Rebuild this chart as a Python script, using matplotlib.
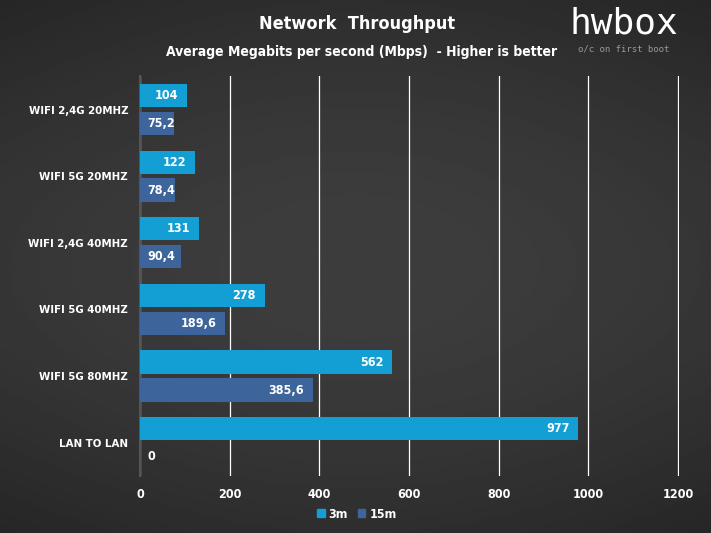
import matplotlib.pyplot as plt
import numpy as np
from matplotlib.patches import Patch

categories = ["WIFI 2,4G 20MHZ", "WIFI 5G 20MHZ", "WIFI 2,4G 40MHZ",
              "WIFI 5G 40MHZ", "WIFI 5G 80MHZ", "LAN TO LAN"]
vals_3m = [104, 122, 131, 278, 562, 977]
vals_15m = [75.2, 78.4, 90.4, 189.6, 385.6, 0]
labels_3m = ["104", "122", "131", "278", "562", "977"]
labels_15m = ["75,2", "78,4", "90,4", "189,6", "385,6", "0"]
x_ticks = [0, 200, 400, 600, 800, 1000, 1200]

c_3m = "#149fd4"
c_15m = "#3d659c"
font = dict(family="DejaVu Sans", fontstretch="condensed", fontweight="bold")

fig = plt.figure(figsize=(7.11, 5.33), dpi=100)

# dark background, a little lighter in the middle
bg = fig.add_axes([0, 0, 1, 1], zorder=0)
yy = np.linspace(0, 1, 200)[:, None]
xx = np.linspace(0, 1, 200)[None, :]
grad = 0.15 + 0.06 * np.sin(np.pi * yy) + 0.03 * np.sin(np.pi * xx)
bg.imshow(grad, cmap="gray", vmin=0, vmax=1, aspect="auto", extent=[0, 1, 0, 1])
bg.axis("off")

ax = fig.add_axes([0.1969, 0.107, 0.758, 0.750], zorder=1)
ax.patch.set_alpha(0)

y = np.arange(len(categories))
h = 0.35
ax.barh(y - 0.21, vals_3m, height=h, color=c_3m, zorder=3)
ax.barh(y + 0.21, vals_15m, height=h, color=c_15m, zorder=3)


def bar_label(val, ypos, txt):
    # label sits inside the end of the bar; short bars get it at the start
    if val >= 100:
        ax.text(val - 19, ypos, txt, ha="right", va="center",
                color="white", fontsize=9, zorder=4, **font)
    else:
        ax.text(16, ypos, txt, ha="left", va="center",
                color="white", fontsize=9, zorder=4, **font)


for i in range(len(categories)):
    bar_label(vals_3m[i], y[i] - 0.21, labels_3m[i])
    bar_label(vals_15m[i], y[i] + 0.21, labels_15m[i])

ax.set_xlim(0, 1202)
ax.set_ylim(len(categories) - 0.5, -0.5)
ax.set_xticks(x_ticks)
ax.set_xticklabels([str(t) for t in x_ticks], color="white", fontsize=9, **font)
ax.set_yticks(y)
ax.set_yticklabels(categories, color="white", fontsize=8.2, **font)
ax.tick_params(axis="y", length=0, pad=8.5)
ax.tick_params(axis="x", length=0, pad=9)
ax.grid(axis="x", color="white", linewidth=0.9, zorder=1)
for s in ["top", "right", "bottom"]:
    ax.spines[s].set_visible(False)
ax.spines["left"].set_color("#555555")
ax.spines["left"].set_linewidth(1.5)
ax.spines["left"].set_zorder(2)

handles = [Patch(color=c_3m, label="3m"), Patch(color=c_15m, label="15m")]
fig.legend(handles=handles, loc="center", bbox_to_anchor=(0.502, 0.035), ncol=2,
           frameon=False, handlelength=0.6, handleheight=0.6, handletextpad=0.3,
           columnspacing=0.8,
           prop={"family": "DejaVu Sans", "stretch": "condensed", "size": 9, "weight": "bold"},
           labelcolor="white")

fig.text(0.502, 0.955, "Network  Throughput", ha="center", va="center", color="white",
         fontsize=13, **font)
fig.text(0.509, 0.902, "Average Megabits per second (Mbps)  - Higher is better",
         ha="center", va="center", color="white", fontsize=10, **font)

# hwbox logo
fig.text(0.877, 0.938, "hwbox", ha="center", va="baseline", color="white",
         fontsize=26, family="DejaVu Sans Mono", fontweight="light")
fig.text(0.877, 0.908, "o/c on first boot", ha="center", va="center", color="#999999",
         fontsize=6.5, family="DejaVu Sans Mono")

fig.savefig("out.png", dpi=100)
